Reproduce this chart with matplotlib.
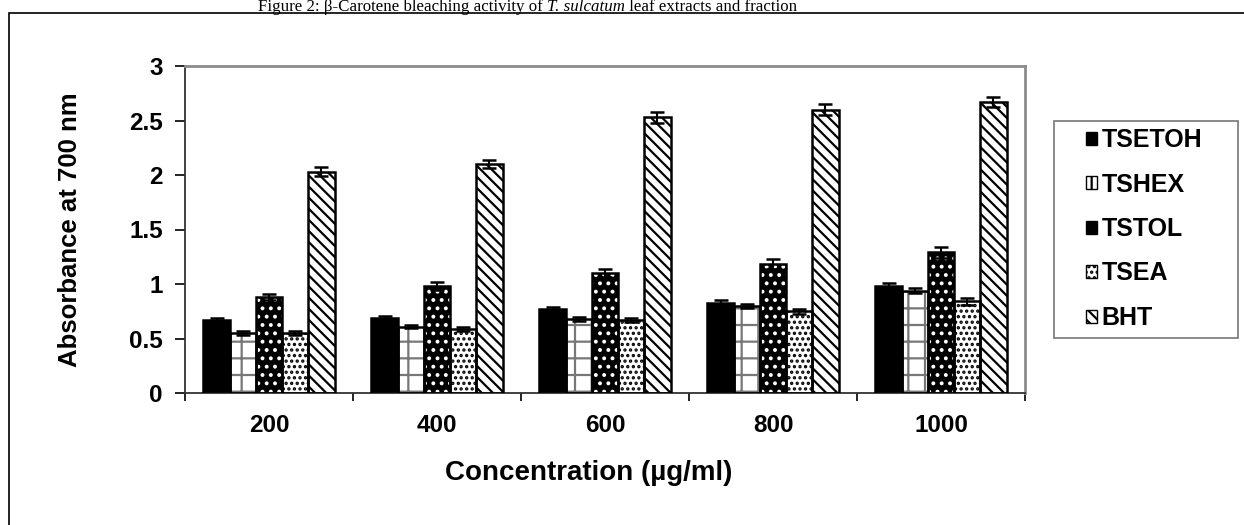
"""Beta-carotene bleaching activity of T. sulcatum extracts (grouped bar chart)."""

import matplotlib
matplotlib.use("Agg")
import matplotlib.pyplot as plt
import numpy as np
from matplotlib.patches import Patch, Rectangle

concentrations = ["200", "400", "600", "800", "1000"]
series_names = ["TSETOH", "TSHEX", "TSTOL", "TSEA", "BHT"]

tsetoh = [0.67, 0.69, 0.77, 0.83, 0.98]
tshex = [0.55, 0.61, 0.68, 0.80, 0.94]
tstol = [0.88, 0.98, 1.10, 1.18, 1.29]
tsea = [0.55, 0.59, 0.67, 0.75, 0.84]
bht = [2.03, 2.10, 2.53, 2.60, 2.67]

tsetoh_err = [0.02, 0.02, 0.02, 0.02, 0.03]
tshex_err = [0.015, 0.015, 0.015, 0.02, 0.025]
tstol_err = [0.03, 0.035, 0.037, 0.045, 0.05]
tsea_err = [0.015, 0.02, 0.02, 0.025, 0.03]
bht_err = [0.04, 0.04, 0.05, 0.05, 0.05]

values = [tsetoh, tshex, tstol, tsea, bht]
errors = [tsetoh_err, tshex_err, tstol_err, tsea_err, bht_err]

# (face colour, hatch, hatch colour) per series
styles = [
    ("black", "", "black"),
    ("white", "+", "#777777"),
    ("black", "..", "white"),
    ("white", "...", "black"),
    ("white", "\\\\\\", "black"),
]

plt.rcParams["font.family"] = ["Liberation Sans", "DejaVu Sans"]
plt.rcParams["font.weight"] = "bold"
plt.rcParams["hatch.linewidth"] = 1.6

W, H = 1244, 525
fig = plt.figure(figsize=(W / 100, H / 100), dpi=100)

# outer frame (right and bottom edges fall outside the image)
fig.patches.append(Rectangle((9 / W, -0.1), 1.2, 1.1 - 13 / H, transform=fig.transFigure,
                             fill=False, edgecolor="black", linewidth=1.2))

title_parts = [("Figure 2: β-Carotene bleaching activity of ", "normal"),
               ("T. sulcatum", "italic"),
               (" leaf extracts and fraction", "normal")]
x = 258 / W
for txt, style in title_parts:
    t = fig.text(x, 1 - 11 / H, txt, ha="left", va="baseline", family="Liberation Serif",
                 fontweight="normal", fontstyle=style, fontsize=12.2)
    fig.canvas.draw()
    x = t.get_window_extent().x1 / W

ax = fig.add_axes([185 / W, 1 - 393 / H, (1025 - 185) / W, (393 - 66) / H])

n = len(series_names)
width = 0.156
centers = np.arange(len(concentrations)) + 0.5
handles = []
for i, (name, vals, errs, (face, hatch, hcol)) in enumerate(zip(series_names, values, errors, styles)):
    pos = centers + (i - (n - 1) / 2) * width
    ax.bar(pos, vals, width, color=face, edgecolor=hcol, hatch=hatch, linewidth=0, zorder=2)
    ax.bar(pos, vals, width, fill=False, edgecolor="black", linewidth=1.8, zorder=3)
    ax.errorbar(pos, vals, yerr=errs, fmt="none", ecolor="black", elinewidth=1.5,
                capsize=5, capthick=1.8, zorder=4)
    handles.append(Patch(facecolor=face, edgecolor="black", hatch=hatch, linewidth=1.0, label=name))

ax.set_xlim(0, 5)
ax.set_ylim(0, 3)
ax.set_yticks([0, 0.5, 1, 1.5, 2, 2.5, 3])
ax.set_yticklabels(["0", "0.5", "1", "1.5", "2", "2.5", "3"])
ax.set_xticks(centers)
ax.set_xticklabels(concentrations)
ax.set_xticks(np.arange(0, 6), minor=True)
ax.tick_params(axis="x", which="major", length=0, pad=15, labelsize=17.5)
ax.tick_params(axis="x", which="minor", length=6, width=1.2, direction="out")
ax.tick_params(axis="y", length=7, width=1.2, direction="out", pad=9, labelsize=17.5)

for side in ["left", "bottom"]:
    ax.spines[side].set_color("#333333")
    ax.spines[side].set_linewidth(1.3)
for side in ["top", "right"]:
    ax.spines[side].set_color("#8c8c8c")
    ax.spines[side].set_linewidth(2.0)

ax.set_xlabel("Concentration (µg/ml)", fontsize=20, fontweight="bold")
ax.xaxis.set_label_coords(0.48, -0.205)
ax.set_ylabel("Absorbance at 700 nm", fontsize=18.5, fontweight="bold")
ax.yaxis.set_label_coords(-0.123, 0.5)

# legend frame drawn separately so the box can be wider than its contents
fig.patches.append(Rectangle((1054 / W, 1 - 338 / H), (1238 - 1054) / W, (338 - 121) / H,
                             transform=fig.transFigure, fill=False, edgecolor="#777777",
                             linewidth=1.2))
fig.legend(handles=handles, loc="upper left", bbox_to_anchor=(1086 / W, 1 - 128 / H),
           frameon=False, fontsize=18, handlelength=0.42, handleheight=0.42,
           handletextpad=0.2, labelspacing=0.82, borderpad=0, borderaxespad=0)

fig.savefig("out.png", dpi=100)
